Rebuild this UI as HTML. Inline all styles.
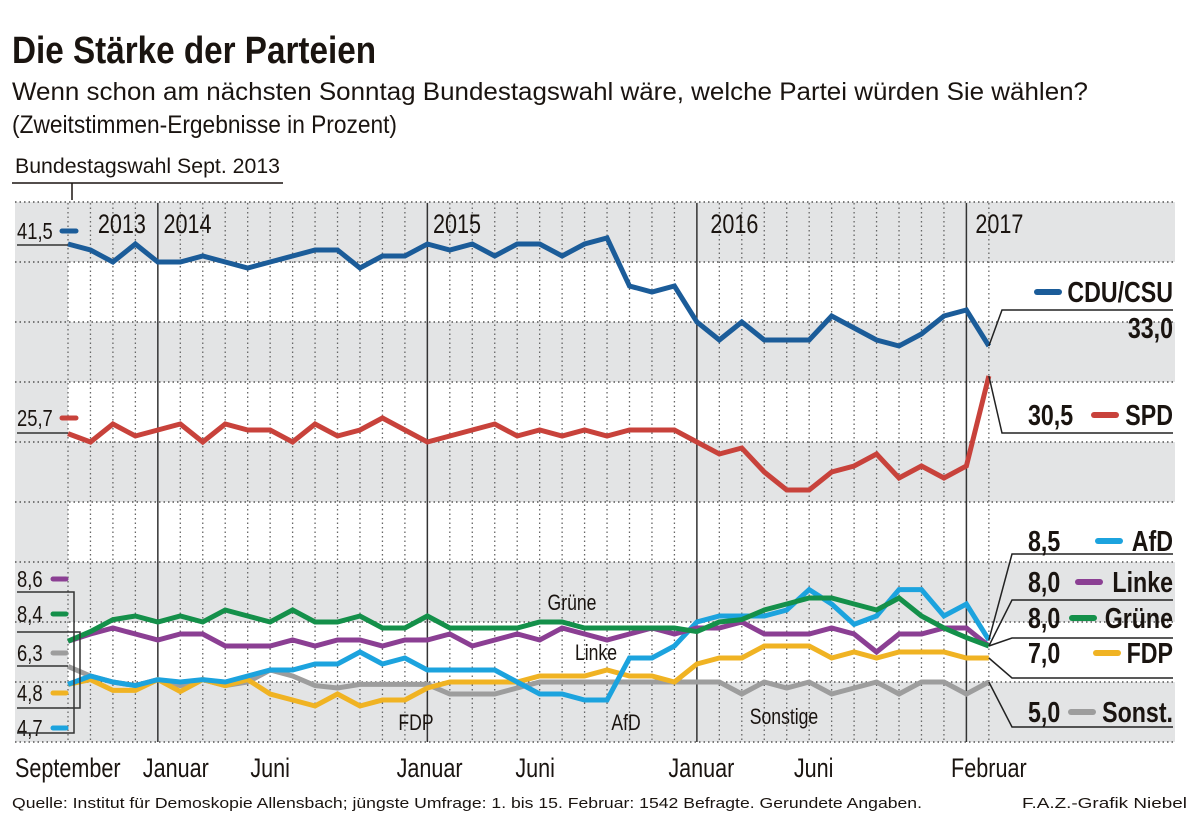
<!DOCTYPE html>
<html><head><meta charset="utf-8"><style>
html,body{margin:0;padding:0;background:#fff;}
svg{display:block;font-family:"Liberation Sans Narrow","Liberation Sans",sans-serif;}
</style></head><body>
<svg id="chart" width="1200" height="834" viewBox="0 0 1200 834">
<text x="12" y="63" font-size="38" font-weight="bold" fill="#1a1410" textLength="364" lengthAdjust="spacingAndGlyphs">Die Stärke der Parteien</text>
<text x="12" y="100" font-size="25" fill="#1a1410" textLength="1076" lengthAdjust="spacingAndGlyphs">Wenn schon am nächsten Sonntag Bundestagswahl wäre, welche Partei würden Sie wählen?</text>
<text x="12" y="133" font-size="25" fill="#1a1410" textLength="385" lengthAdjust="spacingAndGlyphs">(Zweitstimmen-Ergebnisse in Prozent)</text>
<text x="15" y="173" font-size="21" fill="#1a1410" textLength="265" lengthAdjust="spacingAndGlyphs">Bundestagswahl Sept. 2013</text>
<line x1="12" y1="183" x2="283" y2="183" stroke="#1a1410" stroke-width="1.5"/>
<line x1="72" y1="183" x2="72" y2="200" stroke="#1a1410" stroke-width="1.5"/>
<g id="bands"></g>
<g id="grid"></g>
<g id="series"></g>
<g id="labels"></g>
<text x="12" y="808" font-size="15" fill="#1a1410" textLength="910" lengthAdjust="spacingAndGlyphs">Quelle: Institut für Demoskopie Allensbach; jüngste Umfrage: 1. bis 15. Februar: 1542 Befragte. Gerundete Angaben.</text>
<text x="1022" y="808" font-size="15" fill="#1a1410" textLength="165" lengthAdjust="spacingAndGlyphs">F.A.Z.-Grafik Niebel</text>
</svg>
<script>
const cdu=[41.5,41,40,41.5,40,40,40.5,40,39.5,40,40.5,41,41,39.5,40.5,40.5,41.5,41,41.5,40.5,41.5,41.5,40.5,41.5,42,38,37.5,38,35,33.5,35,33.5,33.5,33.5,35.5,34.5,33.5,33,34,35.5,36,33];
const spd=[25.7,25,26.5,25.5,26,26.5,25,26.5,26,26,25,26.5,25.5,26,27,26,25,25.5,26,26.5,25.5,26,25.5,26,25.5,26,26,26,25,24,24.5,22.5,21,21,22.5,23,24,22,23,22,23,30.5];
const gruene=[8.4,9.2,10.2,10.5,10,10.5,10,11,10.5,10,11,10,10,10.5,9.5,9.5,10.5,9.5,9.5,9.5,9.5,10,10,9.5,9.5,9.5,9.5,9.5,9.2,10,10.2,11,11.5,12,12,11.5,11,12,10.5,9.5,8.7,8];
const linke=[8.4,9,9.5,9,8.5,9,9,8,8,8,8.5,8,8.5,8.5,8,8.5,8.5,9,8,8.5,9,8.5,9.5,9,8.5,9,9.5,9,9.5,9.5,10,9,9,9,9.5,9,7.5,9,9,9.5,9.5,8];
const afd=[4.8,5.5,5,4.7,5.2,5,5.2,5,5.5,6,6,6.5,6.5,7.5,6.5,7,6,6,6,6,5,4,4,3.5,3.5,7,7,8,10,10.5,10.5,10.5,11,12.7,11.5,9.8,10.5,12.7,12.7,10.5,11.5,8.5];
const fdp=[4.8,5.2,4.3,4.3,5.2,4.2,5.2,4.7,5.2,4,3.5,3,4,3,3.5,3.5,4.5,5,5,5,5,5.5,5.5,5.5,6,5.5,5.5,5,6.5,7,7,8,8,8,7,7.5,7,7.5,7.5,7.5,7,7];
const sonst=[6.3,5.5,5,4.7,5.2,4.7,5.2,4.7,5,6,5.5,4.7,4.5,4.8,4.8,4.8,4.8,4,4,4,4.5,5,5,5,5,5,5,5,5,5,4,5,4.5,5,4,4.5,5,4,5,5,4,5];
const yTicks=[0,5,10,15,20,25,30,35,40,45];
const monthLabels=["September","Januar","Juni","Januar","Juni","Januar","Juni","Februar"];
const monthLabelIdx=[0,4.8,9,16.1,20.8,28.2,33.2,41];
const yearLabels=["2013","2014","2015","2016","2017"];
const yearIdx=[1.33,4.25,16.25,28.6,40.4];
const endLabels=["33,0","30,5","8,5","8,0","8,0","7,0","5,0"];
const ns="http://www.w3.org/2000/svg";
const X=i=>68+i*22.46, Y=v=>742-12*v;
const SQ=0.8;
function mk(p,t,a){const e=document.createElementNS(ns,t);for(const k in a)e.setAttribute(k,a[k]);document.getElementById(p).appendChild(e);return e;}
function cond(e,x){e.setAttribute('transform',`translate(${x},0) scale(${SQ},1) translate(${-x},0)`);}
for(let k=0;k<9;k++){ if(k%2===0){const r=mk('bands','rect',{x:15,y:Y(yTicks[k+1]),width:1160,height:Y(yTicks[k])-Y(yTicks[k+1]),fill:'#e3e4e5'});

}}
mk('bands','rect',{x:15,y:Y(45),width:53,height:Y(0)-Y(45),fill:'#e3e4e5'});
yTicks.forEach(t=>{const l=mk('grid','line',{x1:15,x2:1175,y1:Y(t),y2:Y(t),stroke:'#555','stroke-width':1.5,'stroke-dasharray':'1.5 3'});

});
for(let i=0;i<42;i++){const solid=(i===4||i===16||i===28||i===40);
const l=mk('grid','line',{x1:X(i),x2:X(i),y1:203,y2:742,stroke:solid?'#333':'#666','stroke-width':solid?1.5:1.3,'stroke-dasharray':solid?'none':'1.5 3'});

}
yearLabels.forEach((s,i)=>{const x=X(yearIdx[i]);const t=mk('grid','text',{x:x,y:233,'font-size':27,fill:'#1a1410'});t.textContent=s;cond(t,x);

});
monthLabels.forEach((s,i)=>{const idx=monthLabelIdx[i];const x=i===0?15:X(idx);const t=mk('labels','text',{x:x,y:777,'font-size':27,fill:'#1a1410','text-anchor':i===0?'start':'middle'});t.textContent=s;cond(t,x);

});
const series=[[sonst,'#9d9d9d','sonstige'],[fdp,'#f0b323','fdp'],[afd,'#1ca3de','afd'],[linke,'#8b3f93','linke'],[gruene,'#14904a','gruene'],[spd,'#c8423b','spd'],[cdu,'#1b5c99','cdu-csu']];
series.forEach(([d,c,n])=>{const p=mk('series','polyline',{points:d.map((v,i)=>X(i)+','+Y(v)).join(' '),fill:'none',stroke:c,'stroke-width':5,'stroke-linejoin':'miter'});

});
[["Grüne",572,610],["Linke",596,660],["FDP",416,730],["AfD",626,730],["Sonstige",784,724]].forEach(([s,x,y])=>{const t=mk('labels','text',{x:x,y:y,'font-size':22,fill:'#1a1410','text-anchor':'middle'});t.textContent=s;cond(t,x);

});
[["41,5",cdu[0],'#1b5c99',239],["25,7",spd[0],'#c8423b',426],["8,6",8.6,'#8b3f93',587],["8,4",8.4,'#14904a',622],["6,3",6.3,'#9d9d9d',661],["4,8",4.8,'#f0b323',701],["4,7",4.7,'#1ca3de',736]].forEach(([s,v,c,y])=>{
const t=mk('labels','text',{x:17,y:y,'font-size':23,fill:'#1a1410'});t.textContent=s;cond(t,17);


mk('labels','line',{x1:s.length>3?62:53,x2:s.length>3?76:66,y1:y-8,y2:y-8,stroke:c,'stroke-width':5,'stroke-linecap':'round'});});
mk('labels','polyline',{points:'17,245 68,245',fill:'none',stroke:'#333','stroke-width':1.5});
mk('labels','polyline',{points:'17,433 68,433',fill:'none',stroke:'#333','stroke-width':1.5});
mk('labels','polyline',{points:'17,592 74,592 74,733 17,733',fill:'none',stroke:'#333','stroke-width':1.5});
mk('labels','polyline',{points:'17,632 80,632 80,708 17,708',fill:'none',stroke:'#333','stroke-width':1.5});
mk('labels','polyline',{points:'17,666 68,666',fill:'none',stroke:'#333','stroke-width':1.5});
const ex=X(41);
const rl=[["CDU/CSU",'#1b5c99',302,310,cdu[41],1063],["SPD",'#c8423b',425,433,spd[41],1120],["AfD",'#1ca3de',551,554,afd[41],1124],["Linke",'#8b3f93',592,600,linke[41],1104],["Grüne",'#14904a',628,638,gruene[41],1098],["FDP",'#f0b323',663,678,fdp[41],1122],["Sonst.",'#9d9d9d',722,727,sonst[41],1097]];
rl.forEach(([n,c,by,ly,v,dx],i)=>{
const sx=i<2?1002:1012;
const c1=mk('labels','polyline',{points:`${ex},${Y(v)} ${sx},${ly} 1173,${ly}`,fill:'none',stroke:'#222','stroke-width':1.5});


const t=mk('labels','text',{x:1173,y:by,'font-size':29,'font-weight':'bold',fill:'#1a1410','text-anchor':'end'});t.textContent=n;cond(t,1173);


mk('labels','line',{x1:dx-26,x2:dx-4,y1:by-10,y2:by-10,stroke:c,'stroke-width':6,'stroke-linecap':'round'});
const vx=i===0?1173:1028;
const vt=mk('labels','text',{x:vx,y:i===0?338:by,'font-size':29,'font-weight':'bold',fill:'#1a1410','text-anchor':i===0?'end':'start'});vt.textContent=endLabels[i];cond(vt,vx);

});
</script>
</body></html>
